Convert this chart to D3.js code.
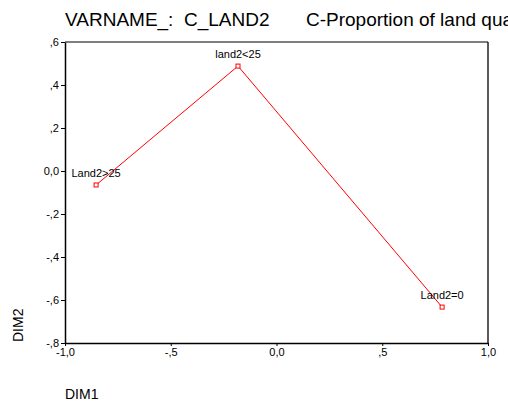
<!DOCTYPE html>
<html><head><meta charset="utf-8">
<script src="https://cdn.jsdelivr.net/npm/d3@7"></script>
<style>body{margin:0;background:#fff;overflow:hidden}svg{display:block;font-family:"Liberation Sans",Arial,sans-serif}</style>
</head><body>
<svg id="c" width="508" height="406"></svg>
<script>
const labels = ["Land2>25", "land2<25", "Land2=0"];
const dim1 = [-0.853, -0.182, 0.783];
const dim2 = [-0.065, 0.488, -0.633];
const xTicks = [-1.0, -0.5, 0.0, 0.5, 1.0];
const xTickLabels = ["-1,0", "-,5", "0,0", ",5", "1,0"];
const yTicks = [0.6, 0.4, 0.2, 0.0, -0.2, -0.4, -0.6, -0.8];
const yTickLabels = [",6", ",4", ",2", "0,0", "-,2", "-,4", "-,6", "-,8"];
const titleParts = ["VARNAME_:  C_LAND2", "C-Proportion of land quality"];

const svg = d3.select("#c");
const x = d3.scaleLinear().domain([-1, 1]).range([65, 488]);
const y = d3.scaleLinear().domain([-0.8, 0.6]).range([343, 42]);

const t = svg.append("text").attr("y", 26).attr("font-size", 19).attr("fill", "#000").attr("xml:space","preserve");
t.append("tspan").attr("x", 65).text(titleParts[0]);
t.append("tspan").attr("x", 306).text(titleParts[1]);

// frame
svg.append("line").attr("x1", x(-1)).attr("x2", x(1)).attr("y1", y(0.6)).attr("y2", y(0.6)).attr("stroke", "#555").attr("stroke-width", 1.3);
svg.append("line").attr("x1", x(1)).attr("x2", x(1)).attr("y1", y(0.6)).attr("y2", y(-0.8)).attr("stroke", "#000").attr("stroke-width", 1.3);

const xa = svg.append("g").attr("transform", `translate(0,${y(-0.8)})`)
  .call(d3.axisBottom(x).tickValues(xTicks).tickFormat((d,i)=>xTickLabels[i]).tickSize(3).tickPadding(2).tickSizeOuter(0));
const ya = svg.append("g").attr("transform", `translate(${x(-1)},0)`)
  .call(d3.axisLeft(y).tickValues(yTicks).tickFormat((d,i)=>yTickLabels[i]).tickSize(4).tickPadding(2).tickSizeOuter(0));
[xa, ya].forEach(a => {
  a.selectAll("text").attr("font-size", 11).attr("fill", "#000").attr("font-family", "Liberation Sans, Arial, sans-serif");
  a.selectAll("line").attr("stroke", "#000");
  a.select(".domain").attr("stroke", "#000").attr("stroke-width", 1.5);
});

const pts = labels.map((l,i)=>({l, a: dim1[i], b: dim2[i]}));
svg.append("path").datum(pts)
  .attr("d", d3.line().x(d=>x(d.a)).y(d=>y(d.b)))
  .attr("fill", "none").attr("stroke", "#f00").attr("stroke-width", 1);
svg.selectAll("rect.m").data(pts).enter().append("rect")
  .attr("x", d=>x(d.a)-2).attr("y", d=>y(d.b)-2).attr("width", 4).attr("height", 4)
  .attr("fill", "#fff").attr("stroke", "#f00").attr("stroke-width", 1);
svg.selectAll("text.lbl").data(pts).enter().append("text")
  .attr("x", d=>x(d.a)).attr("y", d=>y(d.b)-8).attr("text-anchor", "middle")
  .attr("font-size", 11).attr("fill", "#000").text(d=>d.l);

svg.append("text").attr("transform", "translate(23,342) rotate(-90)").attr("font-size", 14).attr("fill","#000").text("DIM2");
svg.append("text").attr("x", 65).attr("y", 399).attr("font-size", 14).attr("fill","#000").text("DIM1");
</script>
</body></html>
